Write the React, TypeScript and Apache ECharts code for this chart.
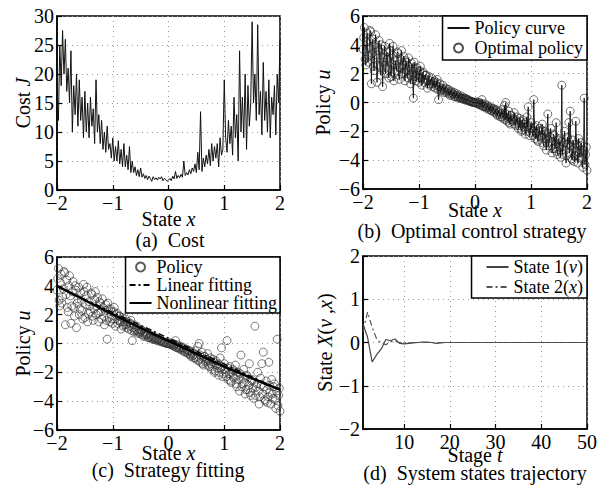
import React, { useEffect, useRef } from 'react';
import * as echarts from 'echarts';

// Sampled state grid: x from -2 to 2 in steps of 0.025 (161 samples)
const SAMPLE_COUNT = 161;

// Cost J at each sampled state x
const costValues = [
  14, 12, 25, 18, 27.5, 20, 26, 17, 21, 15,
  24, 10, 18, 13, 20, 11, 19, 12, 16, 9,
  17, 10, 15, 9, 16, 11, 14, 8, 19, 10,
  13, 8, 12, 7, 10, 6.5, 11, 7, 8, 5.5,
  9, 5, 7.5, 5, 8.5, 4.5, 7, 4, 8, 4,
  6, 3.5, 7.5, 3, 5, 3, 4, 2.5, 3.5, 2.3,
  3.8, 2.2, 2.8, 2, 2.5, 1.8, 2.4, 2, 1.5, 2.3,
  1.8, 2.1, 1.7, 2.2, 1.9, 2.3, 1.6, 2.0, 1.8, 1.5,
  1.7, 2.0, 1.6, 2.4, 1.9, 3.2, 2.0, 2.5, 2.1, 2.7,
  2.2, 5, 2.5, 3, 2.6, 3.5, 2.8, 3.8, 3.2, 4.5,
  3, 6.5, 3.5, 13.5, 3.2, 5.5, 4, 6, 4.5, 7,
  4.2, 8, 5, 7.5, 5.5, 8, 4, 9, 6, 7,
  19, 9, 6.5, 12, 8, 11, 6, 16, 9, 13,
  5, 24, 10, 16, 9, 20, 7, 18, 11, 15,
  29, 15, 20, 12, 28.5, 13, 17, 9.5, 22, 12,
  17, 10, 19, 9, 16, 13, 18, 9.5, 20, 15,
  26,
];

// Optimal policy u at each sampled state x (grid points)
const policyValues = [
  3.7, 5.2, 2.6, 4.8, 3.2, 5.0, 1.3, 4.4, 2.2, 4.7,
  1.4, 3.6, 2.5, 4.0, 1.1, 3.1, 2.0, 3.5, 2.3, 4.1,
  1.8, 3.3, 1.5, 2.9, 2.2, 3.4, 1.6, 3.0, 2.0, 3.2,
  1.5, 2.8, 1.7, 2.5, 1.3, 2.7, 0.3, 2.4, 1.5, 2.2,
  1.4, 2.5, 1.2, 2.1, 1.6, 1.9, 1.0, 1.8, 1.3, 1.7,
  1.1, 1.5, 1.2, 1.6, 0.2, 1.3, 0.9, 1.2, 0.7, 1.0,
  0.8, 0.9, 0.5, 0.8, 0.6, 0.7, 0.4, 0.6, 0.3, 0.5,
  0.3, 0.4, 0.2, 0.3, 0.2, 0.2, 0.1, 0.1, 0.05, 0.0,
  0.0, -0.05, -0.1, 0.0, -0.2, 0.2, -0.3, -0.1, -0.4, -0.2,
  -0.5, -0.3, -0.6, -0.4, -0.7, -0.5, -0.9, -0.6, -1.0, -0.5,
  -1.1, -0.2, 0.0, -1.3, -0.6, -1.5, -0.9, -1.2, -0.7, -1.6,
  -1.0, -1.8, -1.1, -2.0, -1.2, -1.7, -2.2, -1.0, -0.3, -2.3,
  -1.4, -2.0, 0.2, -2.5, -1.6, -2.7, -1.8, -2.4, -1.5, -3.0,
  -2.0, -3.3, -0.8, -2.8, -1.8, -3.5, -2.2, -3.2, -1.4, -3.6,
  -2.5, -3.8, 1.2, -3.0, -2.0, -4.2, -2.4, -1.4, -0.6, -3.9,
  -2.6, -4.1, -1.3, -3.4, -2.5, -3.8, -2.8, -4.5, 0.3, -3.6,
  -4.7,
];

// Optimal policy u at the midpoints between grid samples (160 values)
const policyMidValues = [
  4.5, 3.0, 4.2, 2.8, 3.8, 4.9, 3.4, 2.5, 4.0, 3.3,
  2.6, 4.3, 1.9, 3.7, 2.8, 3.9, 2.4, 3.0, 1.7, 3.6,
  2.7, 3.9, 2.1, 2.6, 3.5, 1.9, 2.4, 3.6, 2.6, 2.1,
  2.9, 2.2, 3.1, 1.9, 2.3, 1.6, 2.8, 1.8, 2.4, 1.7,
  2.2, 1.7, 2.0, 1.4, 1.9, 1.5, 1.6, 1.2, 1.5, 1.3,
  1.4, 1.0, 1.4, 0.9, 1.1, 0.8, 1.0, 0.9, 0.8, 0.7,
  0.9, 0.6, 0.7, 0.5, 0.6, 0.4, 0.5, 0.4, 0.4, 0.3,
  0.3, 0.25, 0.3, 0.15, 0.2, 0.1, 0.1, 0.05, 0.0, 0.02,
  -0.02, 0.05, -0.1, -0.15, -0.05, -0.25, -0.2, -0.3, -0.35, -0.3,
  -0.4, -0.55, -0.45, -0.6, -0.5, -0.8, -0.7, -0.85, -0.75, -1.0,
  -0.9, -1.2, -0.8, -1.1, -1.4, -0.9, -1.3, -1.1, -1.5, -1.2,
  -1.4, -1.6, -1.3, -1.9, -1.5, -1.4, -2.0, -1.7, -1.6, -2.1,
  -1.8, -2.3, -1.7, -2.1, -2.6, -2.0, -2.3, -1.9, -2.8, -2.2,
  -2.5, -2.1, -3.0, -2.4, -2.7, -3.2, -2.3, -2.9, -3.4, -2.6,
  -3.1, -2.7, -3.6, -2.8, -3.3, -3.7, -2.9, -3.5, -3.0, -4.0,
  -3.2, -3.7, -2.9, -4.2, -3.5, -3.0, -3.9, -3.3, -4.3, -3.1,
];

// Strategy fitting
const fitX = [-2, -1.5, -1, -0.5, 0, 0.5, 1, 1.5, 2];
const nonlinearFit = [4.0, 3.0, 2.02, 1.08, 0.18, -0.7, -1.6, -2.42, -3.2];
const linearFitX = [-2, 2];
const linearFit = [3.95, -3.22];

// System states trajectory, stages t = 1..50
const state1 = [
  0.42, 0.12, -0.45, -0.28, -0.15, 0.07, 0.04, 0.08, -0.02, -0.03,
  -0.02, -0.01, 0.0, 0.01, 0.01, 0.0, -0.02, -0.01, 0.0, 0.0,
  0.0, 0.0, 0.0, 0.0, 0.0, 0.0, 0.0, 0.0, 0.0, 0.0,
  0.0, 0.0, 0.0, 0.0, 0.0, 0.0, 0.0, 0.0, 0.0, 0.0,
  0.0, 0.0, 0.0, 0.0, 0.0, 0.0, 0.0, 0.0, 0.0, 0.0,
];
const state2 = [
  0.25, 0.7, 0.35, 0.08, -0.02, -0.05, 0.02, 0.03, 0.0, -0.01,
  0.0, 0.0, 0.0, 0.0, 0.0, 0.0, 0.0, 0.0, 0.0, 0.0,
  0.0, 0.0, 0.0, 0.0, 0.0, 0.0, 0.0, 0.0, 0.0, 0.0,
  0.0, 0.0, 0.0, 0.0, 0.0, 0.0, 0.0, 0.0, 0.0, 0.0,
  0.0, 0.0, 0.0, 0.0, 0.0, 0.0, 0.0, 0.0, 0.0, 0.0,
];

const stageTicks = [10, 20, 30, 40, 50];

const FONT = 'Liberation Serif, Times New Roman, DejaVu Serif, serif';

const STEP = 4 / (SAMPLE_COUNT - 1);
const sampleX = (i: number) => -2 + STEP * i;

const minus = (v: number) => (v < 0 ? '\u2212' + Math.abs(v) : String(v));

const richStyles = {
  n: { fontFamily: FONT, fontSize: 20, color: '#000' },
  i: { fontFamily: FONT, fontSize: 20, color: '#000', fontStyle: 'italic' },
};

function makeAxis(
  gridIndex: number,
  min: number,
  max: number,
  interval: number,
  name: string,
  nameGap: number,
  extra: any = {}
) {
  return {
    gridIndex,
    type: 'value',
    min,
    max,
    interval,
    name,
    nameLocation: 'middle',
    nameGap,
    nameMoveOverlap: false,
    nameTextStyle: { color: '#000', fontFamily: FONT, fontSize: 20, rich: richStyles },
    axisLine: { show: true, onZero: false, lineStyle: { color: '#000', width: 1.5 } },
    axisTick: { show: true, inside: true, length: 5, lineStyle: { color: '#000', width: 1.2 } },
    axisLabel: {
      color: '#000',
      fontFamily: FONT,
      fontSize: 20,
      margin: 3,
      formatter: minus,
      showMinLabel: true,
      showMaxLabel: true,
    },
    splitLine: { show: true, lineStyle: { type: [1, 4], color: '#999', width: 1 } },
    ...extra,
  };
}

const hiddenSymbol = {
  color: 'rgba(0,0,0,0)',
  borderColor: 'rgba(0,0,0,0)',
  borderWidth: 0,
  opacity: 0,
};

const legendBase = {
  orient: 'vertical',
  align: 'left',
  selectedMode: false,
  backgroundColor: '#fff',
  borderColor: '#000',
  borderWidth: 1.5,
  borderRadius: 0,
  itemWidth: 22,
  itemHeight: 9,
  itemGap: 2,
  textStyle: { color: '#000', fontFamily: FONT, fontSize: 18 },
};

export default function App() {
  const ref = useRef<HTMLDivElement>(null);

  useEffect(() => {
    if (!ref.current) return;
    const chart = echarts.init(ref.current, undefined, { renderer: 'svg' });

    const costData = costValues.map((v, i) => [sampleX(i), v]);
    // interleave grid samples and midpoint samples in increasing x
    const policyData: number[][] = [];
    policyValues.forEach((v, i) => {
      policyData.push([sampleX(i), v]);
      if (i < policyMidValues.length) policyData.push([sampleX(i) + STEP / 2, policyMidValues[i]]);
    });
    const nonlinearData = fitX.map((x, i) => [x, nonlinearFit[i]]);
    const linearData = linearFitX.map((x, i) => [x, linearFit[i]]);
    const s1 = state1.map((v, i) => [i + 1, v]);
    const s2 = state2.map((v, i) => [i + 1, v]);

    const gridStyle = { show: true, borderColor: '#000', borderWidth: 1.5, backgroundColor: 'transparent' };

    const option: any = {
      animation: false,
      backgroundColor: '#fff',
      textStyle: { fontFamily: FONT },
      grid: [
        { left: 57, top: 16, width: 223, height: 174, ...gridStyle },
        { left: 363, top: 16, width: 224, height: 173, ...gridStyle },
        { left: 57, top: 257, width: 223, height: 173, ...gridStyle },
        { left: 363, top: 256, width: 224, height: 173, ...gridStyle },
      ],
      xAxis: [
        makeAxis(0, -2, 2, 1, '{n|State }{i|x}', 19),
        makeAxis(1, -2, 2, 1, '{n|State }{i|x}', 11),
        makeAxis(2, -2, 2, 1, '{n|State }{i|x}', 13),
        makeAxis(3, 1, 50, 10, '{n|Stage }{i|t}', 16, {
          axisTick: { show: true, inside: true, length: 5, customValues: stageTicks, lineStyle: { color: '#000', width: 1.2 } },
          axisLabel: {
            color: '#000',
            fontFamily: FONT,
            fontSize: 20,
            margin: 3,
            customValues: stageTicks,
            formatter: minus,
          },
        }),
      ],
      yAxis: [
        makeAxis(0, 0, 30, 5, '{n|Cost }{i|J}', 24),
        makeAxis(1, -6, 6, 2, '{n|Policy }{i|u}', 30),
        makeAxis(2, -6, 6, 2, '{n|Policy }{i|u}', 24),
        makeAxis(3, -2, 2, 1, '{n|State }{i|X}{n|(}{i|v}{n| ,}{i|x}{n|)}', 28),
      ],
      legend: [
        {
          ...legendBase,
          right: 16,
          top: 16,
          padding: [3, 4, 3, 4],
          data: [{ name: 'Policy curve', itemStyle: hiddenSymbol }, 'Optimal policy'],
        },
        {
          ...legendBase,
          right: 323,
          top: 257,
          padding: [1, 3, 1, 3],
          itemGap: 0,
          data: [
            'Policy',
            { name: 'Linear fitting', itemStyle: hiddenSymbol },
            { name: 'Nonlinear fitting', itemStyle: hiddenSymbol },
          ],
        },
        {
          ...legendBase,
          right: 16,
          top: 256,
          padding: [2, 4, 2, 14],
          data: [
            { name: 'State 1(v)', itemStyle: hiddenSymbol },
            { name: 'State 2(x)', itemStyle: hiddenSymbol },
          ],
          formatter: (name: string) =>
            name === 'State 1(v)' ? 'State 1({i|v})' : 'State 2({i|x})',
          textStyle: {
            color: '#000',
            fontFamily: FONT,
            fontSize: 18,
            rich: { i: { fontFamily: FONT, fontSize: 18, color: '#000', fontStyle: 'italic' } },
          },
        },
      ],
      graphic: [
        { type: 'text', x: 170, y: 240, style: { text: '(a)  Cost', fill: '#000', fontFamily: FONT, fontSize: 20, align: 'center', verticalAlign: 'middle' } },
        { type: 'text', x: 472, y: 231, style: { text: '(b)  Optimal control strategy', fill: '#000', fontFamily: FONT, fontSize: 20, align: 'center', verticalAlign: 'middle' } },
        { type: 'text', x: 168, y: 470, style: { text: '(c)  Strategy fitting', fill: '#000', fontFamily: FONT, fontSize: 20, align: 'center', verticalAlign: 'middle' } },
        { type: 'text', x: 475, y: 473, style: { text: '(d)  System states trajectory', fill: '#000', fontFamily: FONT, fontSize: 20, align: 'center', verticalAlign: 'middle' } },
      ],
      series: [
        {
          name: 'Cost',
          type: 'line',
          xAxisIndex: 0,
          yAxisIndex: 0,
          data: costData,
          symbol: 'none',
          color: '#111',
          lineStyle: { color: '#111', width: 1 },
        },
        {
          name: 'Policy curve',
          type: 'line',
          xAxisIndex: 1,
          yAxisIndex: 1,
          data: policyData,
          symbol: 'none',
          color: '#111',
          lineStyle: { color: '#111', width: 0.9 },
        },
        {
          name: 'Optimal policy',
          type: 'scatter',
          xAxisIndex: 1,
          yAxisIndex: 1,
          data: policyData,
          symbol: 'circle',
          symbolSize: 8,
          itemStyle: { color: 'rgba(0,0,0,0)', borderColor: '#222', borderWidth: 0.8 },
        },
        {
          name: 'Policy',
          type: 'scatter',
          xAxisIndex: 2,
          yAxisIndex: 2,
          data: policyData,
          symbol: 'circle',
          symbolSize: 8,
          itemStyle: { color: 'rgba(0,0,0,0)', borderColor: '#333', borderWidth: 0.8 },
        },
        {
          name: 'Linear fitting',
          type: 'line',
          xAxisIndex: 2,
          yAxisIndex: 2,
          data: linearData,
          symbol: 'none',
          color: '#000',
          lineStyle: { color: '#000', width: 1.5, type: [6, 3, 2, 3] },
        },
        {
          name: 'Nonlinear fitting',
          type: 'line',
          xAxisIndex: 2,
          yAxisIndex: 2,
          data: nonlinearData,
          smooth: true,
          symbol: 'none',
          color: '#000',
          lineStyle: { color: '#000', width: 2.5 },
        },
        {
          name: 'State 1(v)',
          type: 'line',
          xAxisIndex: 3,
          yAxisIndex: 3,
          data: s1,
          symbol: 'none',
          color: '#444',
          lineStyle: { color: '#444', width: 1.2 },
        },
        {
          name: 'State 2(x)',
          type: 'line',
          xAxisIndex: 3,
          yAxisIndex: 3,
          data: s2,
          symbol: 'none',
          color: '#555',
          lineStyle: { color: '#555', width: 1.2, type: [6, 3, 2, 3] },
        },
      ],
    };

    chart.setOption(option);
    return () => chart.dispose();
  }, []);

  return (
    <div
      ref={ref}
      style={{ position: 'absolute', left: 0, top: 0, width: 603, height: 491, background: '#fff' }}
    />
  );
}
